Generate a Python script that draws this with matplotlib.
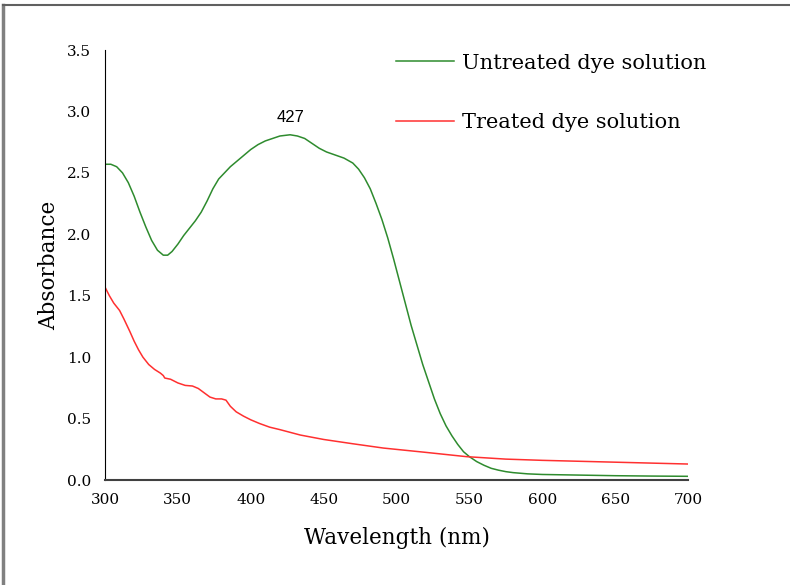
import numpy as np
import matplotlib
matplotlib.use("Agg")
import matplotlib.pyplot as plt
from matplotlib.lines import Line2D

# untreated dye solution (green)
wl_untreated = [300, 304, 308, 312, 316, 320, 324, 328, 332, 336, 340, 343, 346, 350, 354,
                358, 362, 366, 370, 374, 378, 382, 386, 390, 395, 400, 405, 410, 415, 420,
                427, 432, 437, 442, 447, 452, 458, 464, 470, 474, 478, 482, 486, 490, 494,
                498, 502, 506, 510, 514, 518, 522, 526, 530, 534, 538, 542, 546, 550, 555,
                560, 565, 570, 575, 580, 590, 600, 625, 650, 675, 700]
abs_untreated = [2.57, 2.57, 2.55, 2.50, 2.42, 2.31, 2.18, 2.06, 1.95, 1.87, 1.83, 1.83, 1.86, 1.92, 1.99,
                 2.05, 2.11, 2.18, 2.27, 2.37, 2.45, 2.50, 2.55, 2.59, 2.64, 2.69, 2.73, 2.76, 2.78, 2.80,
                 2.81, 2.80, 2.78, 2.74, 2.70, 2.67, 2.645, 2.62, 2.58, 2.53, 2.46, 2.37, 2.25, 2.12, 1.97,
                 1.80, 1.62, 1.44, 1.26, 1.10, 0.94, 0.80, 0.66, 0.54, 0.44, 0.36, 0.29, 0.23, 0.19, 0.15,
                 0.12, 0.095, 0.08, 0.068, 0.06, 0.05, 0.045, 0.04, 0.035, 0.032, 0.03]

# treated dye solution (red)
wl_treated = [300, 303, 306, 310, 313, 317, 320, 323, 326, 330, 334, 338, 340, 341, 345,
              350, 355, 360, 364, 368, 372, 376, 380, 383, 386, 390, 395, 400, 406, 413,
              420, 434, 450, 470, 491, 520, 548, 575, 600, 650, 700]
abs_treated = [1.57, 1.50, 1.44, 1.38, 1.31, 1.21, 1.13, 1.06, 1.00, 0.94, 0.90, 0.87, 0.85, 0.83, 0.82,
               0.79, 0.77, 0.765, 0.745, 0.71, 0.675, 0.66, 0.66, 0.65, 0.60, 0.555, 0.52, 0.49, 0.46, 0.43,
               0.41, 0.366, 0.33, 0.295, 0.26, 0.225, 0.19, 0.17, 0.16, 0.145, 0.13]

peak_wl = 427
peak_abs = 2.81

serif = ["DejaVu Serif"]

fig = plt.figure(figsize=(7.9, 5.85), dpi=100)
ax = fig.add_axes([105/790, 1-480/585, 583/790, 430/585])

ax.plot(wl_untreated, abs_untreated, color="#2e8b2e", lw=1.1, label="Untreated dye solution")
ax.plot(wl_treated, abs_treated, color="#ff3030", lw=1.1, label="Treated dye solution")

ax.text(peak_wl - 137/1.4575 + 94, peak_abs + 0.08, "427", family="Liberation Sans", fontsize=12,
        ha="center", va="bottom")

ax.set_xlim(300, 700)
ax.set_ylim(0, 3.5)
ax.set_xticks(np.arange(300, 701, 50))
ax.set_yticks(np.arange(0, 3.51, 0.5))
ax.set_yticklabels(["%.1f" % v for v in np.arange(0, 3.51, 0.5)])
for lab in ax.get_xticklabels() + ax.get_yticklabels():
    lab.set_family(serif)
    lab.set_fontsize(11)
ax.tick_params(axis="both", length=0)
ax.tick_params(axis="x", pad=9)
ax.tick_params(axis="y", pad=10)

ax.spines["top"].set_visible(False)
ax.spines["right"].set_visible(False)
ax.spines["left"].set_color("black")
ax.spines["bottom"].set_color("#404040")
ax.spines["bottom"].set_linewidth(1.5)

ax.set_xlabel("Wavelength (nm)", family=serif, fontsize=15.5, labelpad=15)
ax.set_ylabel("Absorbance", family=serif, fontsize=15.5, labelpad=5)

leg = ax.legend(loc="upper left", bbox_to_anchor=(272/583, 1.035), frameon=False,
                prop={"family": serif, "size": 15}, handlelength=2.8, handletextpad=0.4,
                labelspacing=1.95)

# figure border (left and top edges)
fig.add_artist(Line2D([3/790, 3/790], [0, 1-5/585], color="#808080", lw=2.5,
                      transform=fig.transFigure))
fig.add_artist(Line2D([3/790, 1], [1-5/585, 1-5/585], color="#606060", lw=1.5,
                      transform=fig.transFigure))

fig.savefig("out.png", dpi=100)
